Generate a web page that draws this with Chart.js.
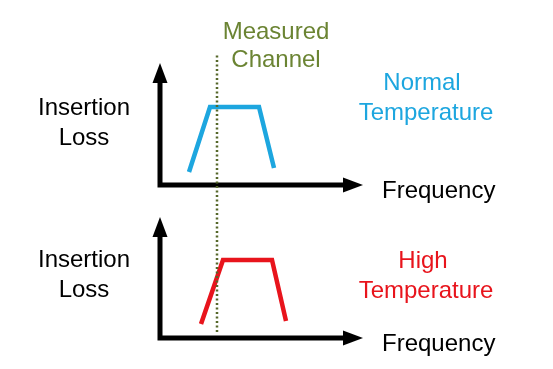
<!DOCTYPE html>
<html lang="en">
<head>
  <meta charset="UTF-8" />
  <title>Insertion Loss vs Temperature</title>
  <script src="https://cdn.jsdelivr.net/npm/chart.js"></script>
  <style>
    html, body { margin: 0; padding: 0; background: #fff; }
    canvas { display: block; }
  </style>
</head>
<body>
  <canvas id="lossChart" width="553" height="369"></canvas>

  <script>
    // frequency (arbitrary units, 0 = loss axis) and insertion loss (arbitrary units)
    const normalFreq = [29, 50, 99, 114];
    const normalLoss = [197, 262, 262, 201];
    const highFreq = [41, 63, 112, 126];
    const highLoss = [45, 109, 109, 48];

    const channelFreq = 57;
    const channelSpan = [37, 316];

    // panel axes: baseline level, top of loss axis, end of frequency axis
    const panelBase = [184, 31];
    const panelTop = [306, 152];
    const freqEnd = 203;

    const BLUE = '#1da6df';
    const RED = '#e8141c';
    const OLIVE = '#6b8433';
    const FONT = '24px "Liberation Sans", Arial, sans-serif';

    const pts = (xs, ys) => xs.map((x, i) => ({ x: x, y: ys[i] }));

    const axisSets = panelBase.map((b, i) => ({
      data: [{ x: 0, y: panelTop[i] - 12 }, { x: 0, y: b }, { x: freqEnd - 12, y: b }],
      borderColor: '#000',
      borderWidth: 5,
      borderJoinStyle: 'miter',
      order: 3
    }));

    const arrowPlugin = {
      id: 'arrows',
      afterDatasetsDraw(chart) {
        const ctx = chart.ctx;
        const xs = chart.scales.x, ys = chart.scales.y;
        ctx.save();
        ctx.fillStyle = '#000';
        panelBase.forEach((b, i) => {
          // up arrow
          const ux = xs.getPixelForValue(0), uy = ys.getPixelForValue(panelTop[i]);
          ctx.beginPath();
          ctx.moveTo(ux, uy);
          ctx.lineTo(ux - 7.5, uy + 20);
          ctx.lineTo(ux + 7.5, uy + 20);
          ctx.closePath();
          ctx.fill();
          // right arrow
          const rx = xs.getPixelForValue(freqEnd), ry = ys.getPixelForValue(b);
          ctx.beginPath();
          ctx.moveTo(rx, ry);
          ctx.lineTo(rx - 20, ry - 7.5);
          ctx.lineTo(rx - 20, ry + 7.5);
          ctx.closePath();
          ctx.fill();
        });

        ctx.font = FONT;
        ctx.textBaseline = 'alphabetic';
        const text = (s, x, y, color, align) => {
          ctx.fillStyle = color;
          ctx.textAlign = align || 'center';
          ctx.fillText(s, x, y);
        };
        text('Measured', 276, 39, OLIVE);
        text('Channel', 276, 67, OLIVE);
        text('Normal', 422, 90, BLUE);
        text('Temperature', 426, 120, BLUE);
        text('High', 423, 268, RED);
        text('Temperature', 426, 298, RED);
        text('Insertion', 84, 115, '#000');
        text('Loss', 84, 145, '#000');
        text('Insertion', 84, 267, '#000');
        text('Loss', 84, 297, '#000');
        text('Frequency', 382, 198, '#000', 'left');
        text('Frequency', 382, 351, '#000', 'left');
        ctx.restore();
      }
    };

    new Chart(document.getElementById('lossChart').getContext('2d'), {
      type: 'scatter',
      data: {
        datasets: [
          ...axisSets,
          {
            label: 'Normal Temperature',
            data: pts(normalFreq, normalLoss),
            borderColor: BLUE,
            borderWidth: 4.5,
            order: 2
          },
          {
            label: 'High Temperature',
            data: pts(highFreq, highLoss),
            borderColor: RED,
            borderWidth: 4.5,
            order: 2
          },
          {
            label: 'Measured Channel',
            data: pts([channelFreq, channelFreq], channelSpan),
            borderColor: '#56672a',
            borderWidth: 2.5,
            borderDash: [2, 2.5],
            order: 1
          }
        ]
      },
      options: {
        responsive: false,
        animation: false,
        showLine: true,
        elements: { point: { radius: 0, hoverRadius: 0 }, line: { tension: 0, borderCapStyle: 'butt' } },
        layout: { padding: 0 },
        plugins: { legend: { display: false }, tooltip: { enabled: false } },
        scales: {
          x: { type: 'linear', min: -160, max: 393, display: false },
          y: { type: 'linear', min: 0, max: 369, display: false }
        }
      },
      plugins: [arrowPlugin]
    });
  </script>
</body>
</html>
